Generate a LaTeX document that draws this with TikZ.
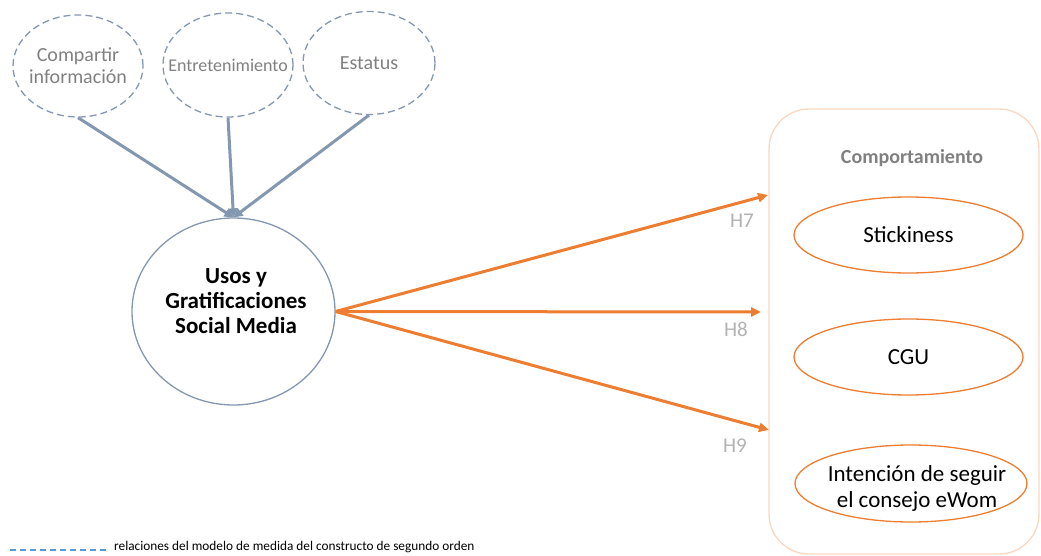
\documentclass[tikz,border=0pt]{standalone}
\usepackage{fontspec}
\setmainfont{Carlito}
\usetikzlibrary{positioning, arrows.meta, shapes.geometric}
\definecolor{slateblue}{RGB}{132, 151, 176}
\definecolor{ugorange}{RGB}{237, 125, 49}
\definecolor{boxpeach}{RGB}{250, 215, 192}
\definecolor{legendblue}{RGB}{91, 155, 213}
% text that does not widen its ellipse
\newcommand{\fitline}[1]{\makebox[0pt]{#1}}

\begin{document}
\begin{tikzpicture}[x=1pt, y=-1pt,
    dim/.style={ellipse, draw=slateblue, line width=1.3pt,
        dash pattern=on 7pt off 4pt, inner sep=0pt, align=center,
        text=black!50, font=\fontsize{20}{22}\selectfont},
    ugcircle/.style={ellipse, draw=slateblue, line width=1.3pt,
        minimum width=203pt, minimum height=187pt, inner sep=0pt},
    ugtext/.style={align=center, inner sep=0pt,
        font=\fontsize{23}{25}\selectfont\bfseries},
    behav/.style={ellipse, draw=ugorange, line width=1.3pt,
        minimum width=229pt, minimum height=76pt, inner sep=0pt,
        align=center, font=\fontsize{23}{29}\selectfont},
    dimarrow/.style={draw=slateblue, line width=3pt,
        -{Triangle[length=9pt, width=9pt]}},
    hyparrow/.style={draw=ugorange, line width=3pt,
        -{Triangle[length=10pt, width=9pt]}},
    hlabel/.style={text=black!30, font=\fontsize{21}{24}\selectfont}
]
\useasboundingbox (0,0) rectangle (1041,556);

% second order construct and its dimensions
\node[dim, minimum width=130pt, minimum height=102pt] (comp) at (78,66)
    {\fitline{Compartir}\\\fitline{informaci\'on}};
\node[dim, minimum width=130pt, minimum height=104pt,
      font=\fontsize{18}{22}\selectfont] (entr) at (228,65)
    {\fitline{Entretenimiento}};
\node[dim, minimum width=132pt, minimum height=103pt] (estat) at (369,63)
    {\fitline{Estatus}};
\node[ugcircle] (usos) at (233.5,311.5) {};
\node[ugtext] (usostxt) at (236,301)
    {Usos y\\Gratificaciones\\Social Media};

\draw[dimarrow] (comp.south) -- (usos.north);
\draw[dimarrow] (entr.south) -- (usos.north);
\draw[dimarrow] (estat.south) -- (usos.north);

% behaviour block
\draw[boxpeach, line width=1.3pt, rounded corners=40pt]
    (769,109) rectangle (1039,554);
\node[font=\fontsize{20}{22}\selectfont\bfseries, text=black!50] (compor)
    at (912,158) {Comportamiento};
\node[behav] (stick) at (908.5,235) {\fitline{Stickiness}};
\node[behav] (cgu) at (908.5,357) {\fitline{CGU}};
\node[behav, minimum width=232pt, minimum height=77pt] (ewom)
    at (911,483.5) {};
\node[align=center, inner sep=0pt, font=\fontsize{23}{26}\selectfont]
    (ewomtxt) at (917,488) {Intenci\'on de seguir\\el consejo eWom};

\coordinate (h7end) at (768,195);
\coordinate (h8end) at (761,312);
\coordinate (h9end) at (769,430);
\draw[hyparrow] (usos.east) -- (h7end);
\draw[hyparrow] (usos.east) -- (h8end);
\draw[hyparrow] (usos.east) -- (h9end);
\node[hlabel] (h7) at (742,221) {H7};
\node[hlabel] (h8) at (736,329) {H8};
\node[hlabel] (h9) at (735,446) {H9};

% legend
\coordinate (lgstart) at (10,550);
\coordinate (lgend) at (108,550);
\draw[legendblue, line width=1.3pt, dash pattern=on 6pt off 4pt]
    (lgstart) -- (lgend);
\node[anchor=west, font=\fontsize{13.3}{15}\selectfont, inner sep=0pt]
    (legend) at (114,547)
    {relaciones del modelo de medida del constructo de segundo orden};
\end{tikzpicture}
\end{document}
